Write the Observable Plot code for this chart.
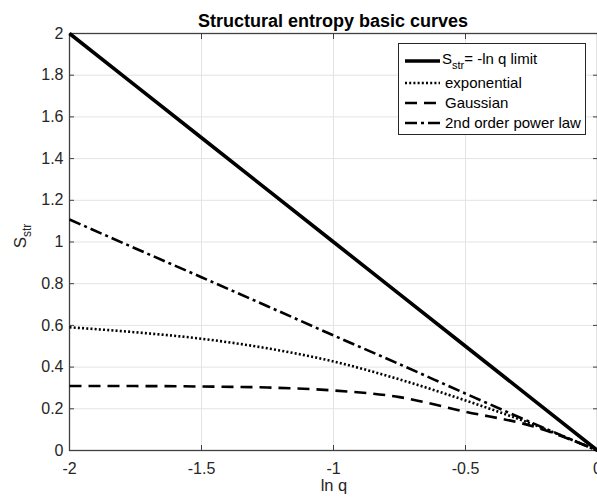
<!DOCTYPE html>
<html>
<head>
<meta charset="utf-8">
<script src="https://cdn.jsdelivr.net/npm/d3@7"></script>
<script src="https://cdn.jsdelivr.net/npm/@observablehq/plot@0.6"></script>
<style>
  html, body { margin: 0; padding: 0; background: #fff; }
  #chart { width: 597px; height: 500px; overflow: hidden; }
</style>
</head>
<body>
<div id="chart"></div>
<script>
// ---- data ----
const lnq         = [-2, -1.75, -1.5, -1.25, -1, -0.75, -0.5, -0.25, 0];
const limitS      = [2, 1.75, 1.5, 1.25, 1, 0.75, 0.5, 0.25, 0];
const exponential = [0.591, 0.567, 0.536, 0.490, 0.427, 0.341, 0.240, 0.128, 0];
const gaussian    = [0.309, 0.309, 0.307, 0.302, 0.288, 0.256, 0.186, 0.118, 0];
const powerLaw    = [1.108, 0.969, 0.831, 0.692, 0.552, 0.414, 0.273, 0.134, 0];
const xTicks = [-2, -1.5, -1, -0.5, 0];
const yTicks = [0, 0.2, 0.4, 0.6, 0.8, 1, 1.2, 1.4, 1.6, 1.8, 2];
const titleText = "Structural entropy basic curves";
const xLabel = "ln q";
const seriesNames = ["limit", "exponential", "Gaussian", "2nd order power law"];

const rows = (vals, name) => lnq.map((x, i) => ({x, y: vals[i], name}));
const dLimit = rows(limitS, seriesNames[0]);
const dExp = rows(exponential, seriesNames[1]);
const dGauss = rows(gaussian, seriesNames[2]);
const dPow = rows(powerLaw, seriesNames[3]);

const styles = {
  limit: {strokeWidth: 3.6, strokeDasharray: null},
  exponential: {strokeWidth: 2.6, strokeDasharray: "2,2.2"},
  Gaussian: {strokeWidth: 2.6, strokeDasharray: "12,7"},
  power: {strokeWidth: 2.6, strokeDasharray: "12,4,3,4"}
};

const axisColor = "#404040";
const gridColor = "#e3e3e3";

const lineOpts = (st) => ({x: "x", y: "y", stroke: "#000", strokeWidth: st.strokeWidth,
  strokeDasharray: st.strokeDasharray, strokeLinecap: "butt", strokeLinejoin: "round", curve: "monotone-x"});

const svg = Plot.plot({
  width: 597,
  height: 500,
  marginLeft: 69,
  marginRight: 0,
  marginTop: 33,
  marginBottom: 50,
  style: {fontFamily: "'Liberation Sans', Arial, sans-serif", fontSize: "16px", color: "#262626", background: "#fff", overflow: "visible"},
  x: {domain: [-2, 0]},
  y: {domain: [0, 2]},
  marks: [
    Plot.gridX(xTicks, {stroke: gridColor, strokeOpacity: 1}),
    Plot.gridY(yTicks, {stroke: gridColor, strokeOpacity: 1}),
    // inward ticks on all four sides
    Plot.axisX(xTicks, {anchor: "bottom", tickSize: -5, tickFormat: () => "", label: null, stroke: axisColor}),
    Plot.axisX(xTicks, {anchor: "top", tickSize: -5, tickFormat: () => "", label: null, stroke: axisColor}),
    Plot.axisY(yTicks, {anchor: "left", tickSize: -5, tickFormat: () => "", label: null, stroke: axisColor}),
    Plot.axisY(yTicks, {anchor: "right", tickSize: -5, tickFormat: () => "", label: null, stroke: axisColor}),
    // tick labels
    Plot.axisX(xTicks, {anchor: "bottom", tickSize: 0, tickPadding: 12, tickFormat: d => String(d), label: null, fontSize: 16}),
    Plot.axisY(yTicks, {anchor: "left", tickSize: 0, tickPadding: 6, tickFormat: d => String(d), label: null, fontSize: 16}),
    Plot.frame({stroke: axisColor, strokeWidth: 1.3}),
    Plot.line(dGauss, lineOpts(styles.Gaussian)),
    Plot.line(dExp, lineOpts(styles.exponential)),
    Plot.line(dPow, lineOpts(styles.power)),
    Plot.line(dLimit, {x: "x", y: "y", stroke: "#000", strokeWidth: styles.limit.strokeWidth, strokeLinecap: "butt"})
  ]
});
document.getElementById("chart").appendChild(svg);

const s = d3.select(svg);
const font = "'Liberation Sans', Arial, sans-serif";

// title
s.append("text")
  .attr("x", 333).attr("y", 26.5)
  .attr("text-anchor", "middle")
  .attr("font-family", font).attr("font-size", 18).attr("font-weight", "bold")
  .attr("fill", "#000")
  .text(titleText);

// x label
s.append("text")
  .attr("x", 334).attr("y", 491)
  .attr("text-anchor", "middle")
  .attr("font-family", font).attr("font-size", 16.5)
  .attr("fill", "#262626")
  .text(xLabel);

// y label S_str
const yl = s.append("text")
  .attr("transform", "translate(25.5,236) rotate(-90)")
  .attr("text-anchor", "middle")
  .attr("font-family", font).attr("font-size", 17)
  .attr("fill", "#262626");
yl.append("tspan").text("S");
yl.append("tspan").attr("dy", 5).attr("font-size", 12).text("str");

// legend
const lg = s.append("g").attr("font-family", font).attr("font-size", 15)
  .attr("fill", "#000").attr("text-anchor", "start");
lg.append("rect").attr("x", 398.5).attr("y", 43.5).attr("width", 187).attr("height", 91)
  .attr("fill", "#fff").attr("stroke", "#262626").attr("stroke-width", 1);
const legendRows = [
  {y: 61, st: styles.limit},
  {y: 83, st: styles.exponential},
  {y: 103, st: styles.Gaussian},
  {y: 123, st: styles.power}
];
legendRows.forEach((r) => {
  lg.append("line").attr("x1", 405).attr("x2", 440).attr("y1", r.y).attr("y2", r.y)
    .attr("stroke", "#000").attr("stroke-width", r.st.strokeWidth)
    .attr("stroke-linecap", "butt")
    .attr("stroke-dasharray", r.st.strokeDasharray);
});
const t0 = lg.append("text").attr("x", 442).attr("y", 64);
t0.append("tspan").text("S");
t0.append("tspan").attr("dy", 5).attr("font-size", 11).text("str");
t0.append("tspan").attr("dy", -5).text("= -ln q limit");
lg.append("text").attr("x", 445).attr("y", 88).text(seriesNames[1]);
lg.append("text").attr("x", 445).attr("y", 108).text(seriesNames[2]);
lg.append("text").attr("x", 445).attr("y", 128).text(seriesNames[3]);
</script>
</body>
</html>
